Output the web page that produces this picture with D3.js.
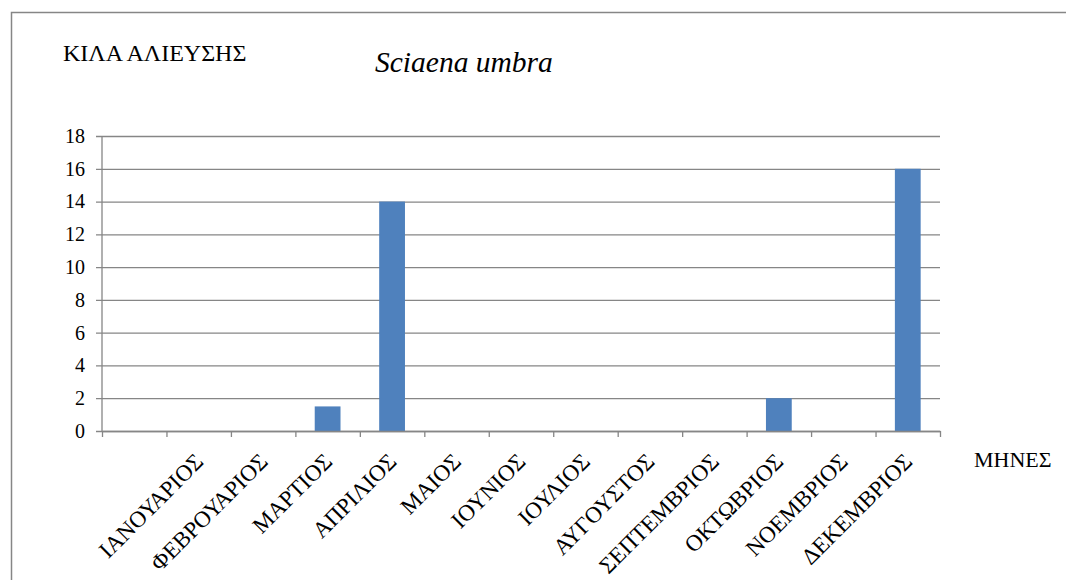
<!DOCTYPE html>
<html>
<head>
<meta charset="utf-8">
<script src="https://cdn.jsdelivr.net/npm/d3@7"></script>
<style>
  body { margin: 0; background: #fff; }
</style>
</head>
<body>
<div id="chart"></div>
<script>
// Data (first category slot is blank in the original)
const months = ["", "ΙΑΝΟΥΑΡΙΟΣ", "ΦΕΒΡΟΥΑΡΙΟΣ", "ΜΑΡΤΙΟΣ", "ΑΠΡΙΛΙΟΣ", "ΜΑΙΟΣ", "ΙΟΥΝΙΟΣ",
  "ΙΟΥΛΙΟΣ", "ΑΥΓΟΥΣΤΟΣ", "ΣΕΠΤΕΜΒΡΙΟΣ", "ΟΚΤΩΒΡΙΟΣ", "ΝΟΕΜΒΡΙΟΣ", "ΔΕΚΕΜΒΡΙΟΣ"];
const kilos = [0, 0, 0, 1.5, 14, 0, 0, 0, 0, 0, 2, 0, 16];
const yTicks = [0, 2, 4, 6, 8, 10, 12, 14, 16, 18];

const W = 1066, H = 580;
const plot = {left: 102, right: 940, top: 136, bottom: 431};
const serif = "'Liberation Serif', 'Times New Roman', serif";

const svg = d3.select("#chart").append("svg")
  .attr("width", W)
  .attr("height", H)
  .style("font-family", serif);

// outer frame
svg.append("rect")
  .attr("x", 11.5).attr("y", 12.5)
  .attr("width", W + 20).attr("height", H + 20)
  .attr("fill", "none")
  .attr("stroke", "#868686")
  .attr("stroke-width", 1.5);

const x = d3.scaleBand()
  .domain(d3.range(months.length))
  .range([plot.left, plot.right])
  .paddingInner(0.6)
  .paddingOuter(0.3);

const xb = d3.scaleLinear()
  .domain([0, months.length])
  .range([plot.left, plot.right]);

const y = d3.scaleLinear()
  .domain([0, 18])
  .range([plot.bottom, plot.top]);

// gridlines + y axis
const yAxis = svg.append("g")
  .attr("transform", `translate(${plot.left},0)`)
  .call(d3.axisLeft(y).tickValues(yTicks).tickSize(-(plot.right - plot.left)).tickPadding(17).tickSizeOuter(0))
  .attr("font-family", serif);
yAxis.select(".domain").remove();
yAxis.selectAll(".tick line")
  .attr("x1", -6)
  .attr("stroke", "#868686")
  .attr("stroke-width", 1.3);
yAxis.selectAll(".tick text")
  .attr("x", -17)
  .attr("fill", "#000")
  .style("font-size", "20px")
  .style("font-family", serif);

// bars
svg.selectAll("rect.bar")
  .data(kilos)
  .enter()
  .append("rect")
    .attr("class", "bar")
    .attr("x", (d, i) => x(i))
    .attr("width", x.bandwidth())
    .attr("y", d => y(d))
    .attr("height", d => y(0) - y(d))
    .attr("fill", "#4f81bd");

// vertical axis line
svg.append("line")
  .attr("x1", plot.left).attr("x2", plot.left)
  .attr("y1", plot.top).attr("y2", plot.bottom)
  .attr("stroke", "#868686").attr("stroke-width", 1.3);

// x axis with ticks at category boundaries
const xAxis = svg.append("g")
  .attr("transform", `translate(0,${plot.bottom})`)
  .call(d3.axisBottom(xb).tickValues(d3.range(months.length + 1)).tickSize(6).tickFormat("").tickSizeOuter(0));
xAxis.select(".domain").attr("stroke", "#868686").attr("stroke-width", 1.3);
xAxis.selectAll(".tick line").attr("stroke", "#868686").attr("stroke-width", 1.3);

// rotated month labels
svg.append("g")
  .selectAll("text")
  .data(months)
  .enter()
  .append("text")
    .attr("transform", (d, i) => `translate(${x(i) + x.bandwidth() / 2 + 6},${plot.bottom + 32}) rotate(-45)`)
    .attr("text-anchor", "end")
    .style("font-family", serif)
    .style("font-size", "23px")
    .text(d => d);

// titles
svg.append("text")
  .attr("x", 63).attr("y", 61)
  .style("font-family", serif)
  .style("font-size", "24px")
  .text("ΚΙΛΑ ΑΛΙΕΥΣΗΣ");

svg.append("text")
  .attr("x", 375).attr("y", 72)
  .style("font-family", serif)
  .style("font-size", "29.5px")
  .style("font-style", "italic")
  .text("Sciaena umbra");

svg.append("text")
  .attr("x", 974).attr("y", 467)
  .style("font-family", serif)
  .style("font-size", "22px")
  .text("ΜΗΝΕΣ");
</script>
</body>
</html>
